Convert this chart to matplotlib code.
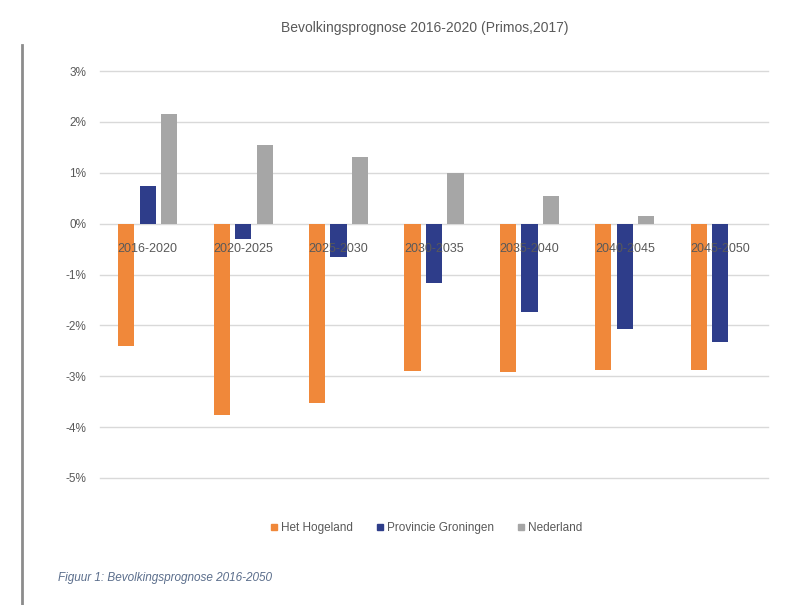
import matplotlib
matplotlib.use("Agg")
import matplotlib.pyplot as plt
from matplotlib.lines import Line2D
import numpy as np

plt.rcParams['font.family'] = ['Liberation Sans Narrow', 'Liberation Sans', 'DejaVu Sans']

categories = ["2016-2020", "2020-2025", "2025-2030", "2030-2035", "2035-2040", "2040-2045", "2045-2050"]
het_hogeland = [-2.4, -3.76, -3.52, -2.9, -2.92, -2.88, -2.87]
provincie_groningen = [0.73, -0.3, -0.65, -1.16, -1.73, -2.07, -2.33]
nederland = [2.15, 1.54, 1.3, 1.0, 0.55, 0.15, 0.0]
series_names = ["Het Hogeland", "Provincie Groningen", "Nederland"]
colors = ["#F0883A", "#2E3D8A", "#A6A6A6"]
yticks = [3, 2, 1, 0, -1, -2, -3, -4, -5]
title = "Bevolkingsprognose 2016-2020 (Primos,2017)"
caption = "Figuur 1: Bevolkingsprognose 2016-2050"

fig = plt.figure(figsize=(7.86, 6.05), dpi=100)
ax = fig.add_axes([100/786, 1-478/605, 668/786, 407/605])

x = np.arange(len(categories))
w = 0.17
step = 0.225
for i, (vals, name, c) in enumerate(zip([het_hogeland, provincie_groningen, nederland], series_names, colors)):
    ax.bar(x + (i-1)*step, vals, width=w, color=c, label=name, zorder=3)

ax.set_xlim(-0.5, len(categories)-0.5)
ax.set_ylim(-5, 3)
ax.set_yticks(yticks)
ax.set_yticklabels([f"{t}%" for t in yticks], fontsize=8.5, color="#595959")
ax.set_xticks([])
ax.tick_params(axis='y', length=0, pad=10)
ax.grid(axis='y', color="#D9D9D9", linewidth=1, zorder=0)
for gl in ax.get_ygridlines():
    gl.set_clip_on(False)
for s in ax.spines.values():
    s.set_visible(False)

for xi, lab in zip(x, categories):
    ax.text(xi, -0.5, lab, ha='center', va='center', fontsize=9, color="#595959", zorder=5)

fig.text(425/786, 1-28/605, title, ha='center', va='center', fontsize=10, color="#595959")

handles = [Line2D([0], [0], marker='s', linestyle='none', markersize=5, markerfacecolor=c, markeredgecolor=c) for c in colors]
fig.legend(handles, series_names, loc='center', bbox_to_anchor=(425/786, 1-528/605), ncol=3,
           frameon=False, fontsize=8.5, handletextpad=0.1, columnspacing=1.8, handlelength=1.0, labelcolor="#595959")

fig.text(58/786, 1-578/605, caption, ha='left', va='center', fontsize=8.5, style='italic', color="#5B6E8C")

fig.add_artist(Line2D([22/786, 22/786], [0, 1-45/605], color="#8C8C8C", linewidth=2, transform=fig.transFigure))

fig.savefig("out.png", dpi=100, facecolor="white")
